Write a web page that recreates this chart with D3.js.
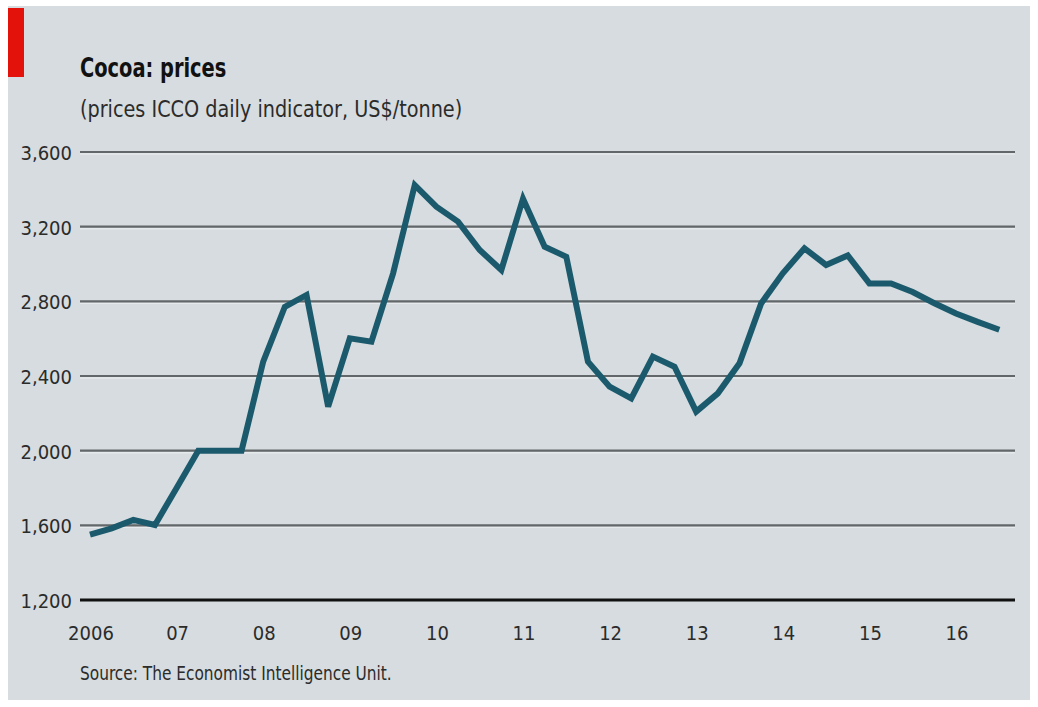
<!DOCTYPE html>
<html>
<head>
<meta charset="utf-8">
<script src="https://cdn.jsdelivr.net/npm/d3@7"></script>
<style>
  body { margin: 0; background: #fff; }
  text { font-family: "Liberation Sans Narrow", "DejaVu Sans Condensed", sans-serif; fill: #2b2b2b; }
</style>
</head>
<body>
<div id="root"></div>
<script>
// Define width, height and margin
let width = 1038, height = 707;
let margin = {top: 152, right: 23, bottom: 107, left: 90};

// Quarterly prices, Q1 2006 .. Q3 2016 (US$/tonne)
const startYear = 2006;
const prices = [
  1550, 1584, 1629, 1602, 1800, 2000, 2000, 2000,
  2477, 2771, 2834, 2236, 2602, 2584, 2950, 3423,
  3307, 3227, 3075, 2968, 3350, 3093, 3039, 2477,
  2343, 2280, 2504, 2450, 2209, 2307, 2468, 2789,
  2950, 3084, 2995, 3046, 2896, 2896, 2850, 2790,
  2735, 2690, 2648
];
const yTicks = [1200, 1600, 2000, 2400, 2800, 3200, 3600];
const xTicks = [2006, 2007, 2008, 2009, 2010, 2011, 2012, 2013, 2014, 2015, 2016];
const xTickLabels = ['2006', '07', '08', '09', '10', '11', '12', '13', '14', '15', '16'];

const data = prices.map((v, i) => ({t: startYear + i / 4, v: v}));

//Initialize and append svg to body
var svg = d3.select('#root')
  .append('svg')
  .attr('width', width)
  .attr('height', height);

// panel background + red tag
svg.append('rect')
  .attr('x', 8).attr('y', 6)
  .attr('width', 1022).attr('height', 694)
  .attr('fill', '#d6dcdf');
svg.append('rect')
  .attr('x', 8).attr('y', 8)
  .attr('width', 16).attr('height', 69)
  .attr('fill', '#e3120b');

// titles (squeezed a bit to get the narrow look)
svg.append('text')
  .attr('transform', 'translate(80,77) scale(0.83,1)')
  .style('font-size', '26px')
  .style('font-weight', 'bold')
  .style('fill', '#111')
  .text('Cocoa: prices');
svg.append('text')
  .attr('transform', 'translate(80,117) scale(0.93,1)')
  .style('font-size', '23px')
  .text('(prices ICCO daily indicator, US$/tonne)');

// scales
var xScale = d3.scaleLinear()
  .domain([2006, 2017])
  .range([margin.left, margin.left + 11 * 86.6]);
var yScale = d3.scaleLinear()
  .domain([1200, 3600])
  .range([height - margin.bottom, margin.top]);

var gridLeft = 80, gridRight = 1015;

// grid lines
var grid = svg.append('g');
grid.selectAll('line.shade')
  .data(yTicks.filter(d => d > 1200))
  .enter().append('line')
  .attr('class', 'shade')
  .attr('x1', gridLeft).attr('x2', gridRight)
  .attr('y1', d => yScale(d) + 2).attr('y2', d => yScale(d) + 2)
  .attr('stroke', '#e6eaec').attr('stroke-width', 1.5);
grid.selectAll('line.grid')
  .data(yTicks.filter(d => d > 1200))
  .enter().append('line')
  .attr('class', 'grid')
  .attr('x1', gridLeft).attr('x2', gridRight)
  .attr('y1', d => yScale(d)).attr('y2', d => yScale(d))
  .attr('stroke', '#62676a').attr('stroke-width', 2.2);

// baseline
svg.append('line')
  .attr('x1', gridLeft).attr('x2', gridRight)
  .attr('y1', yScale(1200)).attr('y2', yScale(1200))
  .attr('stroke', '#111').attr('stroke-width', 3);

// y labels
svg.append('g').selectAll('text')
  .data(yTicks)
  .enter().append('text')
  .attr('x', 72)
  .attr('y', d => yScale(d) + 8)
  .attr('text-anchor', 'end')
  .style('font-size', '20px')
  .text(d => d3.format(',')(d));

// x labels
svg.append('g').selectAll('text')
  .data(xTicks)
  .enter().append('text')
  .attr('x', d => xScale(d) + 1)
  .attr('y', 640)
  .attr('text-anchor', 'middle')
  .style('font-size', '20px')
  .text((d, i) => xTickLabels[i]);

// price line
var line = d3.line()
  .x(d => xScale(d.t))
  .y(d => yScale(d.v));
svg.append('path')
  .datum(data)
  .attr('d', line)
  .attr('fill', 'none')
  .attr('stroke', '#1b5a6d')
  .attr('stroke-width', 6)
  .attr('stroke-linejoin', 'miter');

// source
svg.append('text')
  .attr('transform', 'translate(80,680) scale(0.9,1)')
  .style('font-size', '19px')
  .text('Source: The Economist Intelligence Unit.');
</script>
</body>
</html>
